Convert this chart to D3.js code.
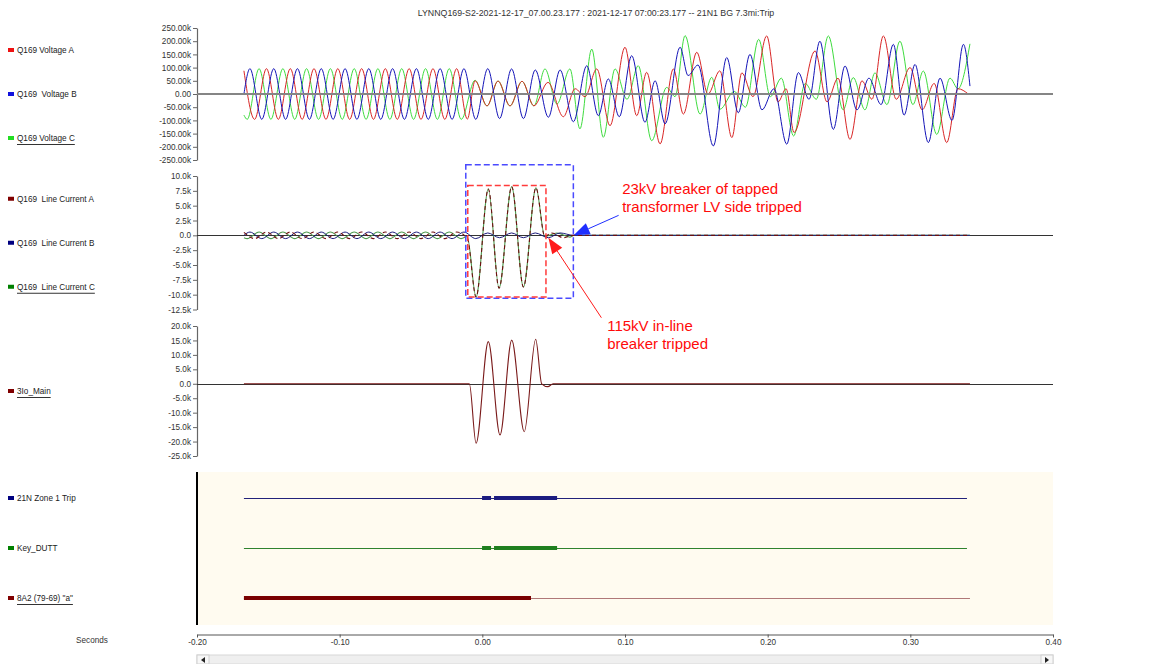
<!DOCTYPE html>
<html>
<head>
<meta charset="utf-8">
<script src="https://cdn.jsdelivr.net/npm/d3@7"></script>
<style>
  body { margin: 0; background: #ffffff; }
  svg { display: block; font-family: "Liberation Sans", Arial, sans-serif; }
</style>
</head>
<body>
<svg id="chart" width="1154" height="664"></svg>
<script>
// ---- record header ----
const recordTitle = "LYNNQ169-S2-2021-12-17_07.00.23.177 : 2021-12-17 07:00:23.177 -- 21N1 BG 7.3mi:Trip";

// ---- channel names ----
const voltageNames = ["Q169 Voltage A", "Q169  Voltage B", "Q169 Voltage C"];
const currentNames = ["Q169  Line Current A", "Q169  Line Current B", "Q169  Line Current C"];
const residualNames = ["3Io_Main"];
const digitalNames = ["21N Zone 1 Trip", "Key_DUTT", "8A2 (79-69) \"a\""];

// ---- axis ticks ----
const timeTicks = [-200, -100, 0, 100, 200, 300, 400];               // ms
const voltageTicks = [250, 200, 150, 100, 50, 0, -50, -100, -150, -200, -250]; // kV
const currentTicks = [10, 7.5, 5, 2.5, 0, -2.5, -5, -7.5, -10, -12.5];          // kA
const residualTicks = [20, 15, 10, 5, 0, -5, -10, -15, -20, -25];              // kA

// ---- analog samples: [time ms, value k] at the waveform turning points ----
const voltageA = [
  [-167.1, 88], [-159.6, -96], [-151.3, 96], [-143.0, -96], [-134.6, 96], [-126.3, -96], [-118.0, 96],
  [-109.6, -96], [-101.3, 96], [-93.0, -96], [-84.6, 96], [-76.3, -96], [-68.0, 96], [-59.6, -96],
  [-51.3, 96], [-43.0, -96], [-34.6, 96], [-26.3, -96], [-18.0, 96], [-10.5, -95],
  [-5.1, 50], [3.3, -45], [11.0, 49], [19.4, -45], [27.8, 48], [36.2, -45],
  [46.0, 44], [56.8, -86], [65.0, 20], [72.0, -10], [80.2, 95], [89.5, -120], [100.0, 177], [108.2, -82],
  [115.2, 82], [124.6, -189], [133.9, 95], [140.9, -76], [150.3, 158], [158.2, 0], [166.5, 88], [174.9, -165],
  [181.9, 80], [189.7, -10], [199.3, 220], [207.3, -30], [212.9, 20], [218.5, -146], [233.2, 163], [241.6, -30],
  [249.3, 60], [257.7, -172], [266.1, 50], [273.1, -20], [281.1, 220], [290.1, -20], [299.8, 100], [308.3, -60],
  [316.7, 40], [325.5, -184], [333.4, 20], [340.6, 0]
];
const voltageB = [
  [-167.1, 0], [-162.9, 96], [-154.6, -96], [-146.2, 96], [-137.9, -96], [-129.6, 96], [-121.2, -96],
  [-112.9, 96], [-104.6, -96], [-96.2, 96], [-87.9, -96], [-79.6, 96], [-71.2, -96], [-62.9, 96],
  [-54.6, -96], [-46.2, 96], [-37.9, -96], [-29.6, 96], [-21.2, -96], [-12.9, 96], [-4.6, -96],
  [3.8, 96], [12.1, -93], [20.5, 95], [28.8, -93], [37.1, 91],
  [46.3, -88], [54.5, 91], [63.8, -105], [73.2, 107], [81.3, -82], [88.3, 57], [96.0, -86], [104.7, 145],
  [114.0, -107], [121.1, 50], [128.1, -113], [138.6, 177], [144.2, 70], [151.2, 110], [161.9, -197],
  [171.3, 138], [179.4, -71], [187.6, 150], [196.0, -60], [204.4, 20], [213.4, -190], [221.5, 81],
  [229.0, -20], [236.6, 200], [246.0, -134], [254.2, 106], [262.6, -60], [271.0, 60], [279.5, -40],
  [288.1, 188], [295.6, -80], [303.3, 112], [312.6, -184], [320.8, 60], [329.2, -100], [337.2, 188], [341.8, 30]
];
const voltageC = [
  [-167.1, -80], [-164.8, -96], [-156.5, 96], [-148.2, -96], [-139.8, 96], [-131.5, -96], [-123.2, 96],
  [-114.8, -96], [-106.5, 96], [-98.2, -96], [-89.8, 96], [-81.5, -96], [-73.2, 96], [-64.8, -96],
  [-56.5, 96], [-48.2, -96], [-39.8, 96], [-31.5, -96], [-23.2, 96], [-14.8, -96],
  [-5.1, 52], [3.3, -45], [11.0, 49], [19.4, -45], [27.8, 48], [36.2, -45],
  [43.9, 95], [52.3, -38], [61.4, 95], [68.4, -132], [76.7, 170], [84.8, -164], [93.0, 95], [101.4, -20],
  [109.3, 107], [118.7, -177], [129.2, 25], [135.1, -10], [142.1, 221], [152.6, -76], [160.8, 63],
  [166.5, -58], [176.6, 10], [184.4, -50], [193.7, 207], [201.9, -10], [209.6, 60], [218.2, -159],
  [226.3, 40], [234.1, -20], [242.5, 220], [252.9, -60], [260.0, 62], [268.2, -60], [275.2, 80],
  [283.6, -40], [292.7, 200], [301.8, -40], [309.1, 87], [318.5, -153], [327.8, 60], [333.4, 20], [341.8, 190]
];

const currentA = [
  [-167.1, 0.5], [-159.6, -0.55], [-151.3, 0.55], [-143.0, -0.55], [-134.6, 0.55], [-126.3, -0.55], [-118.0, 0.55],
  [-109.6, -0.55], [-101.3, 0.55], [-93.0, -0.55], [-84.6, 0.55], [-76.3, -0.55], [-68.0, 0.55], [-59.6, -0.55],
  [-51.3, 0.55], [-43.0, -0.55], [-34.6, 0.55], [-26.3, -0.55], [-18.0, 0.55], [-10.5, -0.5],
  [-4.4, -10.4], [4.2, 7.8], [11.7, -8.9], [20.6, 8.2], [28.8, -8.7], [37.6, 8.0], [43.8, -0.2],
  [48.5, 0.4], [56.8, -0.4], [63.8, 0], [341.8, 0]
];
const currentB = [
  [-167.1, 0], [-162.9, 0.55], [-154.6, -0.55], [-146.2, 0.55], [-137.9, -0.55], [-129.6, 0.55], [-121.2, -0.55],
  [-112.9, 0.55], [-104.6, -0.55], [-96.2, 0.55], [-87.9, -0.55], [-79.6, 0.55], [-71.2, -0.55], [-62.9, 0.55],
  [-54.6, -0.55], [-46.2, 0.55], [-37.9, -0.55], [-29.6, 0.55], [-21.2, -0.55], [-12.9, 0.55], [-4.6, -0.55],
  [3.8, 0.4], [12.1, -0.4], [20.5, 0.4], [28.8, -0.4], [37.1, 0.4], [46.3, -0.4], [54.5, 0.4], [63.8, 0], [341.8, 0]
];
const currentC = [
  [-167.1, -0.4], [-164.8, -0.55], [-156.5, 0.55], [-148.2, -0.55], [-139.8, 0.55], [-131.5, -0.55], [-123.2, 0.55],
  [-114.8, -0.55], [-106.5, 0.55], [-98.2, -0.55], [-89.8, 0.55], [-81.5, -0.55], [-73.2, 0.55], [-64.8, -0.55],
  [-56.5, 0.55], [-48.2, -0.55], [-39.8, 0.55], [-31.5, -0.55], [-23.2, 0.55], [-14.8, -0.55], [-10.6, -0.2],
  [-4.4, -10.4], [4.2, 7.8], [11.7, -8.9], [20.6, 8.2], [28.8, -8.7], [37.6, 8.0], [43.8, -0.2],
  [52.3, 0.4], [61.4, -0.3], [64.0, 0], [341.8, 0]
];

const residualMain = [
  [-167.1, 0], [-9.1, 0], [-4.4, -20.6], [4.2, 14.6], [12.4, -17.7], [20.6, 15.1], [29.4, -16.6],
  [37.4, 15.4], [41.6, 0], [45.9, -1.0], [49.6, 0], [341.8, 0]
];

// ---- digital channels: recorded span and asserted intervals (ms) ----
const digitalSpan = [[-167.1, 339.7], [-167.1, 339.7], [-167.1, 341.8]];
const zone1TripOn = [[-0.2, 6.1], [8.2, 52.4]];
const keyDuttOn = [[-0.2, 6.1], [8.2, 52.4]];
const breaker8A2On = [[-167.1, 34.1]];

// ---- annotation texts ----
const noteLvTrip = ["23kV breaker of tapped", "transformer LV side tripped"];
const noteHvTrip = ["115kV in-line", "breaker tripped"];

// =====================================================================
const svg = d3.select("#chart");
const plotLeft = 197, plotRight = 1053;

const x = d3.scaleLinear().domain([-200, 400]).range([plotLeft, plotRight]);
const yV = d3.scaleLinear().domain([-250, 250]).range([160, 28]);
const yI = d3.scaleLinear().domain([-12.5, 10]).range([309.5, 176]);
const yN = d3.scaleLinear().domain([-25, 20]).range([456, 326]);
const yD = d3.scalePoint().domain(digitalNames).range([498, 598]);

const fmtV = v => v === 0 ? "0.00" : v.toFixed(2) + "k";
const fmtI = v => v === 0 ? "0.0" : v.toFixed(1) + "k";

// title
svg.append("text")
  .attr("x", 596).attr("y", 16)
  .attr("text-anchor", "middle")
  .attr("font-size", 8.8).attr("fill", "#333")
  .text(recordTitle);

// left axes for analog panels
function leftAxis(scale, ticks, fmt) {
  const g = svg.append("g").attr("transform", `translate(${plotLeft},0)`)
    .call(d3.axisLeft(scale).tickValues(ticks).tickFormat(fmt).tickSize(4).tickSizeOuter(0).tickPadding(2));
  g.select(".domain").attr("stroke", "#666").attr("stroke-width", 1.2);
  g.selectAll(".tick line").attr("stroke", "#666");
  g.selectAll(".tick text").attr("font-size", 8.2).attr("fill", "#333")
    .attr("font-family", "'Liberation Sans', Arial, sans-serif");
  return g;
}
leftAxis(yV, voltageTicks, fmtV);
leftAxis(yI, currentTicks, fmtI);
leftAxis(yN, residualTicks, fmtI);

// digital panel background
svg.append("rect")
  .attr("x", plotLeft).attr("y", 472)
  .attr("width", plotRight - plotLeft).attr("height", 153)
  .attr("fill", "#fffbf0");
svg.append("line")
  .attr("x1", plotLeft).attr("x2", plotLeft).attr("y1", 472).attr("y2", 625)
  .attr("stroke", "#000").attr("stroke-width", 2);

// zero reference lines under currents
[yI, yN].forEach(s => {
  const y0 = Math.round(s(0)) + 0.5;
  svg.append("line")
    .attr("x1", plotLeft).attr("x2", plotRight)
    .attr("y1", y0).attr("y2", y0)
    .attr("stroke", "#333").attr("stroke-width", 1);
});

const lineGen = yScale => d3.line()
  .x(d => x(d[0]))
  .y(d => yScale(d[1]))
  .curve(d3.curveMonotoneX);

function trace(data, yScale, color, width, dash) {
  const p = svg.append("path")
    .datum(data)
    .attr("d", lineGen(yScale))
    .attr("fill", "none")
    .attr("stroke", color)
    .attr("stroke-width", width)
    .attr("stroke-linejoin", "round");
  if (dash) p.attr("stroke-dasharray", dash);
  return p;
}

// voltages
trace(voltageC, yV, "#3fdc3f", 1);
trace(voltageA, yV, "#d92626", 1);
trace(voltageB, yV, "#1414b8", 1);
svg.append("line")
  .attr("x1", plotLeft).attr("x2", plotRight)
  .attr("y1", yV(0)).attr("y2", yV(0))
  .attr("stroke", "#858585").attr("stroke-width", 1.8);

// line currents
trace(currentC, yI, "#4f9a4f", 1.1);
trace(currentB, yI, "#1a1a7a", 1);
trace(currentA, yI, "#6e1010", 1.1, "4,3");

// residual current
trace(residualMain, yN, "#7a1a1a", 1.1);

// digital channels
const digitalColor = ["#1c1c80", "#1f7f1f", "#7a0000"];
const digitalThin = ["#22227a", "#2f832f", "#b07878"];
const digitalOn = [zone1TripOn, keyDuttOn, breaker8A2On];
digitalNames.forEach((name, i) => {
  const y = yD(name);
  svg.append("line")
    .attr("x1", x(digitalSpan[i][0])).attr("x2", x(digitalSpan[i][1]))
    .attr("y1", y + 0.5).attr("y2", y + 0.5)
    .attr("stroke", digitalThin[i]).attr("stroke-width", 1);
  svg.selectAll(null).data(digitalOn[i]).enter().append("line")
    .attr("x1", d => x(d[0])).attr("x2", d => x(d[1]))
    .attr("y1", y).attr("y2", y)
    .attr("stroke", digitalColor[i]).attr("stroke-width", 4);
});

// time axis
const xg = svg.append("g").attr("transform", "translate(0,634.5)")
  .call(d3.axisBottom(x).tickValues(timeTicks).tickFormat(d => (d / 1000).toFixed(2))
    .tickSize(3).tickSizeOuter(0).tickPadding(2));
xg.select(".domain").attr("stroke", "#555");
xg.selectAll(".tick line").attr("stroke", "#555");
xg.selectAll(".tick text").attr("font-size", 8.2).attr("fill", "#333")
  .attr("font-family", "'Liberation Sans', Arial, sans-serif");
svg.append("text").attr("x", 92).attr("y", 643).attr("text-anchor", "middle")
  .attr("font-size", 8.2).attr("fill", "#333").text("Seconds");

// scroll bar
svg.append("rect").attr("x", plotLeft).attr("y", 655).attr("width", plotRight - plotLeft).attr("height", 9)
  .attr("fill", "#efefef").attr("stroke", "#d8d8d8");
svg.append("rect").attr("x", plotLeft).attr("y", 655).attr("width", 12).attr("height", 9)
  .attr("fill", "#f7f7f7").attr("stroke", "#d0d0d0");
svg.append("rect").attr("x", plotRight - 12).attr("y", 655).attr("width", 12).attr("height", 9)
  .attr("fill", "#f7f7f7").attr("stroke", "#d0d0d0");
svg.append("path").attr("d", `M${plotLeft + 8},657 L${plotLeft + 4},660 L${plotLeft + 8},663 Z`).attr("fill", "#222");
svg.append("path").attr("d", `M${plotRight - 8},657 L${plotRight - 4},660 L${plotRight - 8},663 Z`).attr("fill", "#222");

// channel legend
function legend(names, colors, centerY, spacing, underlineLast) {
  names.forEach((name, i) => {
    const y = centerY + (i - (names.length - 1) / 2) * spacing;
    svg.append("rect").attr("x", 8).attr("y", y - 2).attr("width", 6).attr("height", 4).attr("fill", colors[i]);
    const t = svg.append("text").attr("x", 17).attr("y", y + 3)
      .attr("font-size", 8.2).attr("fill", "#222")
      .style("white-space", "pre").text(name);
    if (underlineLast && i === names.length - 1) {
      const w = t.node().getComputedTextLength();
      svg.append("line").attr("x1", 17).attr("x2", 17 + w).attr("y1", y + 6.5).attr("y2", y + 6.5)
        .attr("stroke", "#333").attr("stroke-width", 1);
    }
  });
}
legend(voltageNames, ["#ee1111", "#1111dd", "#22dd22"], (yV.range()[0] + yV.range()[1]) / 2, 44, true);
legend(currentNames, ["#800000", "#000080", "#008000"], (yI.range()[0] + yI.range()[1]) / 2, 44, true);
legend(residualNames, ["#800000"], (yN.range()[0] + yN.range()[1]) / 2, 44, true);
legend(digitalNames, ["#000080", "#008000", "#800000"], (yD.range()[0] + yD.range()[1]) / 2, 50, true);

// annotation: breaker boxes
function dashedBox(t0, t1, v0, v1, color) {
  svg.append("rect")
    .attr("x", x(t0)).attr("y", yI(v0))
    .attr("width", x(t1) - x(t0)).attr("height", yI(v1) - yI(v0))
    .attr("fill", "none").attr("stroke", color).attr("stroke-width", 1.5)
    .attr("stroke-dasharray", "6,3");
}
dashedBox(-11.6, 63.8, 11.9, -10.6, "#4a4aff");
dashedBox(-10.2, 44.6, 8.4, -10.4, "#ff3b3b");

function arrow(x1, y1, x2, y2, color) {
  const a = Math.atan2(y2 - y1, x2 - x1), L = 16, W = 6;
  const bx = x2 - L * Math.cos(a), by = y2 - L * Math.sin(a);
  svg.append("line").attr("x1", x1).attr("y1", y1).attr("x2", bx).attr("y2", by)
    .attr("stroke", color).attr("stroke-width", 1);
  svg.append("path")
    .attr("d", `M${x2},${y2} L${bx - W * Math.sin(a)},${by + W * Math.cos(a)} L${bx + W * Math.sin(a)},${by - W * Math.cos(a)} Z`)
    .attr("fill", color);
}
// LV breaker: arrow onto the end of the current record
const lvTipX = x(64), lvTipY = yI(0);
arrow(lvTipX + 45, lvTipY - 20, lvTipX, lvTipY, "#1f2fff");
// HV breaker: arrow onto the fault current interruption
const hvTipX = x(46.3), hvTipY = yI(-0.4);
arrow(hvTipX + 53, hvTipY + 80, hvTipX, hvTipY, "#ff1a1a");

function note(lines, tx, ty) {
  lines.forEach((s, i) => {
    svg.append("text").attr("x", tx).attr("y", ty + i * 18)
      .attr("font-size", 15).attr("fill", "#ff0a0a").text(s);
  });
}
note(noteLvTrip, x(98), 194);
note(noteHvTrip, x(87.5), 331);
</script>
</body>
</html>
